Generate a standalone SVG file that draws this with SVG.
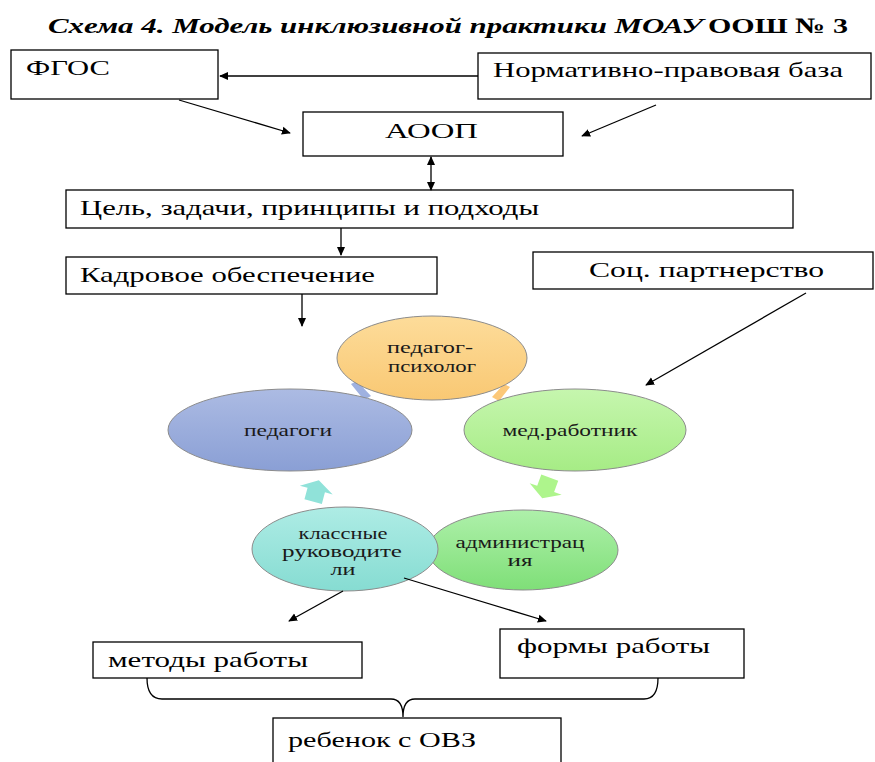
<svg xmlns="http://www.w3.org/2000/svg" width="875" height="762" viewBox="0 0 875 762">
<defs>
<marker id="ah" viewBox="0 0 10 10" refX="9" refY="5" markerWidth="9" markerHeight="9" markerUnits="userSpaceOnUse" orient="auto-start-reverse">
<path d="M0,0.5 L10,5 L0,9.5 Z" fill="#000"/>
</marker>
<linearGradient id="gOr" x1="0" y1="0" x2="0" y2="1"><stop offset="0" stop-color="#fddc9a"/><stop offset="1" stop-color="#f9c873"/></linearGradient>
<linearGradient id="gBl" x1="0" y1="0" x2="0" y2="1"><stop offset="0" stop-color="#acbbe3"/><stop offset="1" stop-color="#8a9fd5"/></linearGradient>
<linearGradient id="gLg" x1="0" y1="0" x2="0" y2="1"><stop offset="0" stop-color="#c6f6ae"/><stop offset="1" stop-color="#a6ec85"/></linearGradient>
<linearGradient id="gGr" x1="0" y1="0" x2="0" y2="1"><stop offset="0" stop-color="#aef0aa"/><stop offset="1" stop-color="#7fdf78"/></linearGradient>
<linearGradient id="gCy" x1="0" y1="0" x2="0" y2="1"><stop offset="0" stop-color="#aeece5"/><stop offset="1" stop-color="#86dcd2"/></linearGradient>
</defs>
<style>
.box{fill:#fff;stroke:#000;stroke-width:1.3}
.t{font-size:21px;fill:#000}
.e{font-size:16px;fill:#1a1a1a;text-anchor:middle}
.ell{stroke:#8c8c8c;stroke-width:1}
.c{fill:none;stroke:#000;stroke-width:1.3}
.ttl{font-size:22px;font-weight:bold;fill:#000}
</style>
<rect width="875" height="762" fill="#fff"/>

<g font-family="Liberation Serif, DejaVu Serif, serif">
<g id="title">
<text class="ttl" x="48" y="33" font-style="italic" textLength="655" lengthAdjust="spacingAndGlyphs">Схема 4. Модель инклюзивной практики МОАУ</text>
<text class="ttl" x="708" y="33" textLength="140" lengthAdjust="spacingAndGlyphs">ООШ № 3</text>
</g>

<g id="fgos"><rect class="box" x="11" y="50" width="207" height="49"/><text class="t" x="26" y="75" textLength="84" lengthAdjust="spacingAndGlyphs">ФГОС</text></g>
<g id="normbase"><rect class="box" x="478" y="53" width="393" height="46"/><text class="t" x="493" y="77" textLength="350" lengthAdjust="spacingAndGlyphs">Нормативно-правовая база</text></g>
<g id="aoop"><rect class="box" x="303" y="112" width="260" height="44"/><text class="t" x="385" y="138" textLength="93" lengthAdjust="spacingAndGlyphs">АООП</text></g>
<g id="goal"><rect class="box" x="66" y="190" width="727" height="38"/><text class="t" x="80" y="215" textLength="459" lengthAdjust="spacingAndGlyphs">Цель, задачи, принципы и подходы</text></g>
<g id="staff"><rect class="box" x="66" y="257" width="371" height="37"/><text class="t" x="80" y="282" textLength="295" lengthAdjust="spacingAndGlyphs">Кадровое обеспечение</text></g>
<g id="partner"><rect class="box" x="533" y="252" width="340" height="37"/><text class="t" x="589" y="277" textLength="235" lengthAdjust="spacingAndGlyphs">Соц. партнерство</text></g>

<g id="cycle-arrows">
<polygon points="351,384 357,381 371,396 364,400" fill="#9fb1e0"/>
<polygon points="492,397 504,384 510,387 499,401" fill="#fcc878"/>
<polygon transform="translate(316,491) rotate(15)" points="0,-11 17,-1 9,-1 9,11 -9,11 -9,-1 -17,-1" fill="#90e2d9"/>
<polygon transform="translate(546,488) rotate(20)" points="0,11 17,1 9,1 9,-11 -9,-11 -9,1 -17,1" fill="#aef58c"/>
</g>

<g id="pedagogi"><ellipse class="ell" cx="290" cy="430" rx="122" ry="41" fill="url(#gBl)"/><text class="e" x="288" y="436" textLength="88" lengthAdjust="spacingAndGlyphs">педагоги</text></g>
<g id="medrab"><ellipse class="ell" cx="575" cy="430" rx="111" ry="41" fill="url(#gLg)"/><text class="e" x="570" y="436" textLength="135" lengthAdjust="spacingAndGlyphs">мед.работник</text></g>
<g id="psycholog"><ellipse class="ell" cx="432" cy="358" rx="95" ry="42" fill="url(#gOr)"/><text class="e" x="430" y="353" textLength="86" lengthAdjust="spacingAndGlyphs">педагог-</text><text class="e" x="432" y="372" textLength="88" lengthAdjust="spacingAndGlyphs">психолог</text></g>
<g id="admin"><ellipse class="ell" cx="523" cy="550" rx="95" ry="40" fill="url(#gGr)"/><text class="e" x="520" y="548" textLength="129" lengthAdjust="spacingAndGlyphs">администрац</text><text class="e" x="520" y="566" textLength="25" lengthAdjust="spacingAndGlyphs">ия</text></g>
<g id="klass"><ellipse class="ell" cx="345" cy="549" rx="93" ry="42" fill="url(#gCy)"/><text class="e" x="343" y="539" textLength="89" lengthAdjust="spacingAndGlyphs">классные</text><text class="e" x="342" y="557" textLength="120" lengthAdjust="spacingAndGlyphs">руководите</text><text class="e" x="343" y="575" textLength="25" lengthAdjust="spacingAndGlyphs">ли</text></g>

<g id="methods"><rect class="box" x="93" y="642" width="269" height="36"/><text class="t" x="108" y="667" textLength="200" lengthAdjust="spacingAndGlyphs">методы работы</text></g>
<g id="forms"><rect class="box" x="500" y="629" width="244" height="49"/><text class="t" x="517" y="653" textLength="193" lengthAdjust="spacingAndGlyphs">формы работы</text></g>
<g id="child"><rect class="box" x="273" y="718" width="288" height="50"/><text class="t" x="288" y="747" textLength="188" lengthAdjust="spacingAndGlyphs">ребенок с ОВЗ</text></g>
</g>

<g id="connectors">
<line class="c" x1="478" y1="76" x2="220" y2="76" marker-end="url(#ah)"/>
<line class="c" x1="179" y1="100" x2="290" y2="133" marker-end="url(#ah)"/>
<line class="c" x1="656" y1="105" x2="582" y2="136" marker-end="url(#ah)"/>
<line class="c" x1="431" y1="157" x2="431" y2="190" marker-start="url(#ah)" marker-end="url(#ah)"/>
<line class="c" x1="341" y1="228" x2="341" y2="255" marker-end="url(#ah)"/>
<line class="c" x1="302" y1="294" x2="302" y2="326" marker-end="url(#ah)"/>
<line class="c" x1="806" y1="293" x2="646" y2="385" marker-end="url(#ah)"/>
<line class="c" x1="343" y1="591" x2="289" y2="621" marker-end="url(#ah)"/>
<line class="c" x1="404" y1="578" x2="546" y2="621" marker-end="url(#ah)"/>
<path class="c" d="M147,678 Q147,699 162,699 L391,699 Q403,699 403,717 Q403,699 415,699 L644,699 Q658,699 658,678"/>
</g>
</svg>
